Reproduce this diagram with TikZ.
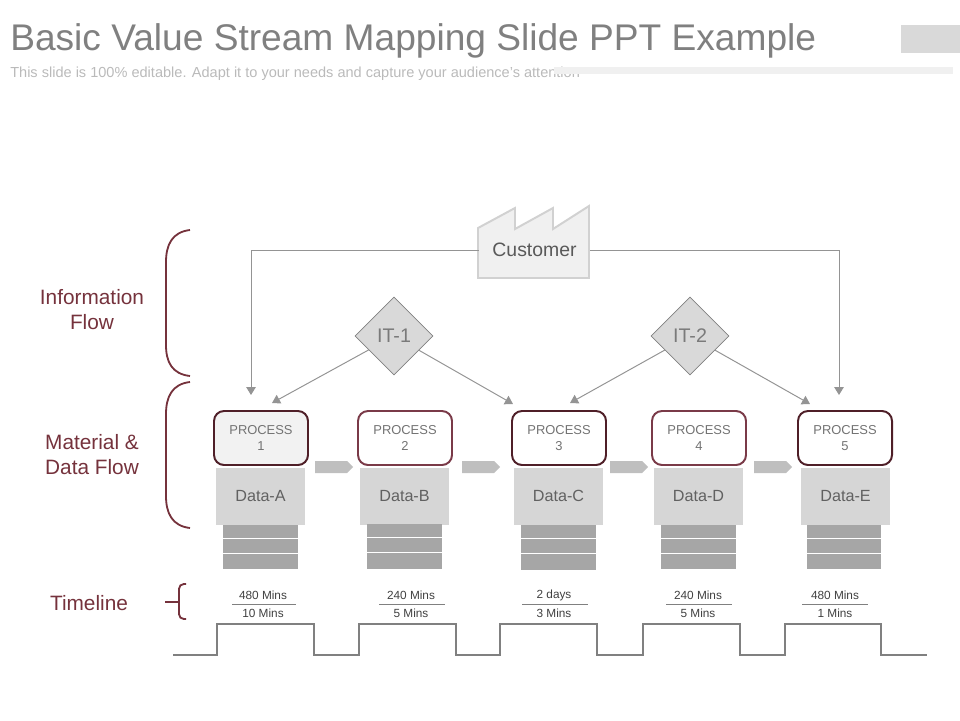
\documentclass[tikz,border=0pt]{standalone}
\usepackage{fontspec}
\setmainfont{Liberation Sans}
\usetikzlibrary{shapes.geometric,shapes.symbols,arrows.meta}
\definecolor{wine}{HTML}{75323C}
\definecolor{winedark}{HTML}{4F1F28}
\definecolor{winelight}{HTML}{7A3A48}
\tikzset{
  label/.style={text=wine,align=center,font=\fontsize{14.8}{17.8}\selectfont},
  procbox/.style={draw=winelight,line width=1.4pt,fill=white,rounded corners=0.25cm,
    minimum width=2.35cm,minimum height=1.35cm,inner sep=0pt,align=center,
    text=black!55,font=\fontsize{9.2}{11.7}\selectfont},
  databox/.style={fill=black!16,minimum width=2.225cm,minimum height=1.425cm,inner sep=0pt,
    text=black!62,font=\fontsize{11.5}{14}\selectfont},
  stackbar/.style={fill=black!35},
  flowarrow/.style={signal,signal to=east,signal pointer angle=90,fill=black!25,
    minimum width=0.95cm,minimum height=0.3cm,inner sep=0pt},
  itbox/.style={diamond,draw=black!50,line width=0.5pt,fill=black!15,aspect=1,inner sep=0pt,
    minimum width=1.95cm,minimum height=1.95cm,text=black!52,font=\fontsize{14}{16}\selectfont},
  infoline/.style={draw=black!42,line width=0.7pt,-{Triangle[length=0.2cm,width=0.24cm]}},
  timetext/.style={inner sep=0pt,text=black!75,font=\fontsize{8.4}{10}\selectfont},
  timerule/.style={draw=black!50,line width=0.5pt},
  brace/.style={draw=wine,line width=1.3pt}
}
\begin{document}
\begin{tikzpicture}
  \useasboundingbox (0,0) rectangle (24,18);

  % heading
  \node[anchor=west,inner sep=0pt,text=black!50,font=\fontsize{26.4}{30}\selectfont] (title) at (0.25,16.975) {Basic Value Stream Mapping Slide PPT Example};
  \node[anchor=west,inner sep=0pt,text=black!27,font=\fontsize{10.35}{12}\selectfont] (subtitle) at (0.25,16.15) {This slide is 100\% editable. Adapt it to your needs and capture your audience's attention};
  \fill[black!6] (13.85,16.15) rectangle (23.825,16.325);
  \fill[black!15] (22.525,16.675) rectangle (24,17.375);

  % left column
  \node[label] (infolabel) at (2.3,10.25) {Information\\Flow};
  \node[label] (matlabel) at (2.3,6.625) {Material \&\\Data Flow};
  \node[label] (timelabel) at (2.225,2.925) {Timeline};
  \draw[brace] (4.75,12.25) .. controls (4.3,12.2) and (4.15,11.875) .. (4.15,11.45)
    -- (4.15,9.375) .. controls (4.15,8.95) and (4.3,8.65) .. (4.75,8.6);
  \draw[brace] (4.75,8.45) .. controls (4.3,8.4) and (4.15,8.075) .. (4.15,7.65)
    -- (4.15,5.6) .. controls (4.15,5.175) and (4.3,4.85) .. (4.75,4.8);
  \draw[brace,rounded corners=0.12cm] (4.65,3.4) -- (4.475,3.4) -- (4.475,2.525) -- (4.65,2.525);
  \draw[brace] (4.125,2.95) -- (4.475,2.95);

  % customer
  \draw[draw=black!18,line width=1.4pt,fill=black!6] (11.95,12.3) -- (12.875,12.8) -- (12.875,12.275)
    -- (13.825,12.8) -- (13.825,12.275) -- (14.725,12.85) -- (14.725,11.05) -- (11.95,11.05) -- cycle;
  \node[minimum width=2.775cm,inner sep=0pt,text=black!65,font=\fontsize{13.8}{16}\selectfont] (customer) at (13.3625,11.75) {Customer};

  \node[itbox] (it1) at (9.85,9.6) {IT-1};
  \node[itbox] (it2) at (17.25,9.6) {IT-2};

  % processes
  \node[procbox,draw=winedark,fill=black!5] (proc1) at (6.525,7.05) {PROCESS\\1};
  \node[procbox] (proc2) at (10.125,7.05) {PROCESS\\2};
  \node[procbox,draw=winedark] (proc3) at (13.975,7.05) {PROCESS\\3};
  \node[procbox] (proc4) at (17.475,7.05) {PROCESS\\4};
  \node[procbox,draw=winedark] (proc5) at (21.125,7.05) {PROCESS\\5};

  \node[databox] (data1) at (6.5125,5.6) {Data-A};
  \node[databox] (data2) at (10.1125,5.6) {Data-B};
  \node[databox] (data3) at (13.9625,5.6) {Data-C};
  \node[databox] (data4) at (17.4625,5.6) {Data-D};
  \node[databox] (data5) at (21.1375,5.6) {Data-E};

  \node[flowarrow] (flow1) at (8.275,6.325) {};
  \node[flowarrow] (flow2) at (11.95,6.325) {};
  \node[flowarrow] (flow3) at (15.65,6.325) {};
  \node[flowarrow] (flow4) at (19.25,6.325) {};

  % stacks under the data boxes
  \fill[stackbar] (5.575,4.875) rectangle (7.45,4.55);
  \fill[stackbar] (5.575,4.525) rectangle (7.45,4.175);
  \fill[stackbar] (5.575,4.15) rectangle (7.45,3.775);
  \fill[stackbar] (9.175,4.9) rectangle (11.05,4.575);
  \fill[stackbar] (9.175,4.55) rectangle (11.05,4.2);
  \fill[stackbar] (9.175,4.175) rectangle (11.05,3.775);
  \fill[stackbar] (13.025,4.875) rectangle (14.9,4.55);
  \fill[stackbar] (13.025,4.525) rectangle (14.9,4.175);
  \fill[stackbar] (13.025,4.15) rectangle (14.9,3.75);
  \fill[stackbar] (16.525,4.875) rectangle (18.4,4.55);
  \fill[stackbar] (16.525,4.525) rectangle (18.4,4.175);
  \fill[stackbar] (16.525,4.15) rectangle (18.4,3.775);
  \fill[stackbar] (20.175,4.875) rectangle (22.025,4.55);
  \fill[stackbar] (20.175,4.525) rectangle (22.025,4.175);
  \fill[stackbar] (20.175,4.15) rectangle (22.025,3.775);

  % information arrows
  \coordinate (in1) at (6.275,8.125);
  \coordinate (in5) at (20.975,8.125);
  \coordinate (it1a) at (6.8,7.925);
  \coordinate (it1b) at (12.825,7.9);
  \coordinate (it2a) at (14.25,7.925);
  \coordinate (it2b) at (20.25,7.9);
  \draw[infoline] (customer.west) -| (in1);
  \draw[infoline] (customer.east) -| (in5);
  \draw[infoline] (it1) -- (it1a);
  \draw[infoline] (it1) -- (it1b);
  \draw[infoline] (it2) -- (it2a);
  \draw[infoline] (it2) -- (it2b);

  % timeline
  \node[timetext] (time1a) at (6.575,3.125) {480 Mins};
  \node[timetext] (time1b) at (6.575,2.675) {10 Mins};
  \node[timetext] (time2a) at (10.275,3.125) {240 Mins};
  \node[timetext] (time2b) at (10.275,2.675) {5 Mins};
  \node[timetext] (time3a) at (13.85,3.125) {2 days};
  \node[timetext] (time3b) at (13.85,2.675) {3 Mins};
  \node[timetext] (time4a) at (17.45,3.125) {240 Mins};
  \node[timetext] (time4b) at (17.45,2.675) {5 Mins};
  \node[timetext] (time5a) at (20.875,3.125) {480 Mins};
  \node[timetext] (time5b) at (20.875,2.675) {1 Mins};
  \draw[timerule] (5.8,2.9) -- (7.4,2.9);
  \draw[timerule] (9.475,2.9) -- (11.125,2.9);
  \draw[timerule] (13.05,2.9) -- (14.7,2.9);
  \draw[timerule] (16.65,2.9) -- (18.3,2.9);
  \draw[timerule] (20.05,2.9) -- (21.7,2.9);
  \draw[draw=black!50,line width=1.6pt] (4.325,1.625) -- (5.425,1.625) -- (5.425,2.4) -- (7.85,2.4)
    -- (7.85,1.625) -- (8.975,1.625) -- (8.975,2.4) -- (11.4,2.4) -- (11.4,1.625) -- (12.5,1.625)
    -- (12.5,2.4) -- (14.925,2.4) -- (14.925,1.625) -- (16.075,1.625) -- (16.075,2.4) -- (18.5,2.4)
    -- (18.5,1.625) -- (19.625,1.625) -- (19.625,2.4) -- (22.025,2.4) -- (22.025,1.625) -- (23.175,1.625);
\end{tikzpicture}
\end{document}
